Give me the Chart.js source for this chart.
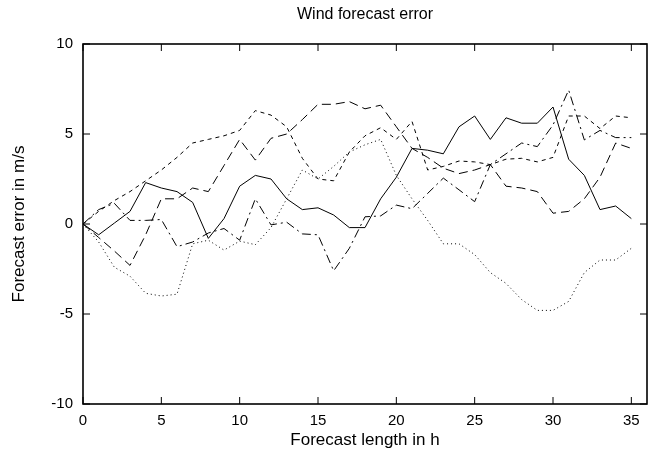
<!DOCTYPE html>
<html>
<head>
<meta charset="utf-8">
<script src="https://cdn.jsdelivr.net/npm/chart.js@4/dist/chart.umd.min.js"></script>
<style>
  html, body { margin: 0; padding: 0; background: #fff; }
  #wrap { width: 653px; height: 459px; }
</style>
</head>
<body>
<div id="wrap"><canvas id="chart" width="653" height="459"></canvas></div>
<script>
// ===== data =====
const hours = [0, 1, 2, 3, 4, 5, 6, 7, 8, 9, 10, 11, 12, 13, 14, 15, 16, 17,
  18, 19, 20, 21, 22, 23, 24, 25, 26, 27, 28, 29, 30, 31, 32, 33, 34, 35];

const solidErr = [0, -0.6, 0.05, 0.7, 2.3, 2.0, 1.8, 1.2, -0.8, 0.3, 2.1, 2.7,
  2.5, 1.4, 0.8, 0.9, 0.5, -0.2, -0.2, 1.4, 2.6, 4.2, 4.1, 3.9, 5.4, 6.0, 4.7,
  5.9, 5.6, 5.6, 6.5, 3.6, 2.7, 0.8, 1.0, 0.3];
const longDashErr = [0, -0.75, -1.5, -2.3, -0.6, 1.4, 1.4, 2.0, 1.8, 3.25, 4.7,
  3.55, 4.76, 5.0, 5.8, 6.65, 6.65, 6.8, 6.4, 6.6, 5.4, 4.2, 3.7, 3.1, 2.8, 3.0,
  3.3, 2.1, 2.0, 1.8, 0.6, 0.7, 1.4, 2.6, 4.5, 4.2];
const shortDashErr = [0, 0.7, 1.3, 1.8, 2.4, 3.0, 3.7, 4.5, 4.7, 4.9, 5.2, 6.3,
  6.05, 5.4, 3.65, 2.5, 2.4, 4.0, 4.9, 5.35, 4.7, 5.7, 3.0, 3.2, 3.5, 3.45, 3.3,
  3.6, 3.65, 3.45, 3.7, 6.0, 6.0, 5.3, 6.0, 5.9];
const dottedErr = [0, -1.0, -2.4, -2.9, -3.85, -4.0, -3.9, -1.1, -0.9, -1.45,
  -0.95, -1.15, -0.2, 1.4, 3.0, 2.5, 3.2, 4.0, 4.4, 4.7, 2.7, 1.4, 0.2, -1.1,
  -1.1, -1.7, -2.7, -3.3, -4.2, -4.8, -4.8, -4.3, -2.7, -2.0, -2.0, -1.35];
const dashDotErr = [0, 0.8, 1.15, 0.2, 0.2, 0.25, -1.26, -1.0, -0.5, -0.25, -0.9,
  1.4, -0.05, 0.1, -0.55, -0.6, -2.6, -1.35, 0.4, 0.45, 1.05, 0.85, 1.7, 2.55,
  1.9, 1.24, 3.3, 3.9, 4.5, 4.3, 5.5, 7.44, 4.67, 5.2, 4.8, 4.8];

const xTicks = [0, 5, 10, 15, 20, 25, 30, 35];
const yTicks = [-10, -5, 0, 5, 10];

const chartTitle = "Wind forecast error";
const xTitle = "Forecast length in h";
const yTitle = "Forecast error in m/s";

// ===== build datasets =====
const FONT = "'Liberation Sans', Arial, Helvetica, sans-serif";

function toPoints(vals) {
  return hours.map((h, i) => ({ x: h, y: vals[i] }));
}

const seriesList = [
  { vals: solidErr, dash: [] },
  { vals: longDashErr, dash: [9, 5] },
  { vals: shortDashErr, dash: [4, 4] },
  { vals: dottedErr, dash: [1, 3] },
  { vals: dashDotErr, dash: [9, 4, 2, 4] }
];

const datasets = seriesList.map(s => ({
  data: toPoints(s.vals),
  borderColor: "#000",
  borderWidth: 1,
  borderDash: s.dash,
  pointRadius: 0,
  tension: 0,
  fill: false
}));

// ===== frame, inward ticks and title =====
const framePlugin = {
  id: "frame",
  afterDraw(chart) {
    const { ctx, chartArea: a, scales } = chart;
    const len = 7;
    ctx.save();
    ctx.strokeStyle = "#000";
    ctx.lineWidth = 1;
    ctx.beginPath();
    xTicks.forEach(v => {
      const px = scales.x.getPixelForValue(v);
      ctx.moveTo(px, a.bottom);
      ctx.lineTo(px, a.bottom - len);
      ctx.moveTo(px, a.top);
      ctx.lineTo(px, a.top + len);
    });
    yTicks.forEach(v => {
      const py = scales.y.getPixelForValue(v);
      ctx.moveTo(a.left, py);
      ctx.lineTo(a.left + len, py);
      ctx.moveTo(a.right, py);
      ctx.lineTo(a.right - len, py);
    });
    ctx.stroke();

    ctx.lineWidth = 1.6;
    ctx.strokeRect(a.left, a.top, a.right - a.left, a.bottom - a.top);

    ctx.fillStyle = "#000";
    ctx.font = "16px " + FONT;
    ctx.textAlign = "center";
    ctx.textBaseline = "middle";
    ctx.fillText(chartTitle, (a.left + a.right) / 2, 15);
    ctx.restore();
  }
};

const ctx = document.getElementById("chart").getContext("2d");

new Chart(ctx, {
  type: "line",
  data: { datasets },
  plugins: [framePlugin],
  options: {
    responsive: false,
    animation: false,
    layout: { padding: { top: 44, right: 6, left: 0, bottom: 0 } },
    plugins: {
      legend: { display: false },
      tooltip: { enabled: false },
      title: { display: false }
    },
    scales: {
      x: {
        type: "linear",
        min: 0,
        max: 36,
        afterBuildTicks: s => { s.ticks = xTicks.map(v => ({ value: v })); },
        afterFit: s => { s.height = 55; },
        grid: { display: false, drawTicks: false },
        border: { display: false },
        ticks: { padding: 8, color: "#000", maxRotation: 0, autoSkip: false, font: { family: FONT, size: 15 } },
        title: { display: true, text: xTitle, color: "#000", font: { family: FONT, size: 17 }, padding: { top: 0, bottom: 8 } }
      },
      y: {
        type: "linear",
        min: -10,
        max: 10,
        afterBuildTicks: s => { s.ticks = yTicks.map(v => ({ value: v })); },
        afterFit: s => { s.width = 83; },
        grid: { display: false, drawTicks: false },
        border: { display: false },
        ticks: { padding: 10, color: "#000", autoSkip: false, font: { family: FONT, size: 15 } },
        title: { display: true, text: yTitle, color: "#000", font: { family: FONT, size: 17 }, padding: { top: 9, bottom: 0 } }
      }
    }
  }
});
</script>
</body>
</html>
